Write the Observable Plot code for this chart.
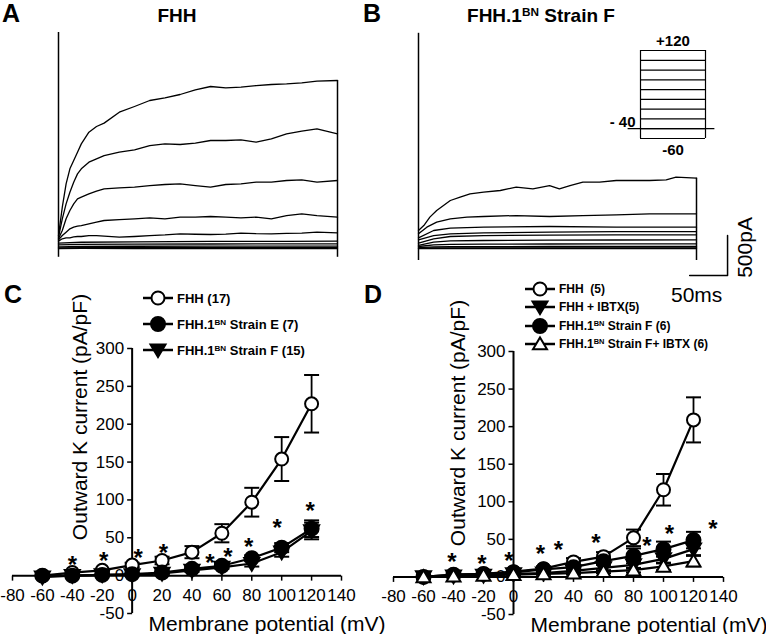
<!DOCTYPE html>
<html><head><meta charset="utf-8">
<script src="https://cdn.jsdelivr.net/npm/d3@7"></script>
<script src="https://cdn.jsdelivr.net/npm/@observablehq/plot@0.6"></script>
<style>
body{margin:0;background:#fff;}
#fig{position:relative;width:766px;height:634px;overflow:hidden;background:#fff;font-family:'Liberation Sans',Arial,Helvetica,sans-serif;color:#000;}
#fig svg{overflow:visible;}
.lbl{position:absolute;font-weight:bold;line-height:1;white-space:nowrap;}
sup{font-size:0.62em;line-height:0;vertical-align:0.55em;}
</style></head><body><div id="fig"></div><script>
// ---------- DATA ----------
// Panel A traces (FHH), time in ms, current in pA
const tA = [0,5,10,15,20,25,30,40,50,60,80,100,120,140,160,180,200,220,240,260,280,300,320,340,367];
const a120 = [160,517,808,996,1100,1204,1308,1454,1525,1567,1704,1775,1850,1883,1925,1983,2025,2008,2017,2037,2050,2058,2071,2092,2100];
const a100 = [141,371,558,704,829,933,996,1079,1121,1162,1204,1233,1287,1308,1300,1317,1350,1350,1358,1329,1371,1433,1467,1496,1433];
const a80  = [121,225,371,475,558,621,642,683,717,746,758,767,787,800,808,787,767,800,808,829,829,850,858,829,850];
const a60  = [108,162,204,246,267,279,287,308,329,350,362,371,383,371,392,392,400,392,383,392,371,412,433,412,392];
const a40  = [92,121,133,133,145,150,150,162,160,155,141,150,162,170,183,178,175,180,192,185,183,190,192,204,196];
const tAflat = [0,30,100,200,300,367];
const a20  = [66,78,84,88,90,92];
const a0   = [45,52,55,56,58,58];
const am20 = [20,26,28,29,29,29];
const am40 = [8,10,11,12,12,12];
const am60 = [0,1,-1,0,-1,0];
const transientsA = [{t:0, lo:-110, hi:2700}, {t:367, lo:-110, hi:2100}];

// Panel B traces (FHH.1BN Strain F)
const tB1 = [0,7,15,24,33,42,55,68,86,108,129,151,173,186,200,217,239,261,283,305,327,340,367];
const b120 = [225,287,392,475,537,600,642,683,704,725,767,746,787,746,787,829,829,850,850,850,858,892,879];
const tB2 = [0,11,24,42,64,86,129,173,217,261,305,349,367];
const b100 = [183,267,329,371,392,400,412,400,412,421,433,433,433];
const tBflat = [0,20,42,86,173,261,367];
const b80  = [133,225,254,267,275,267,267];
const b60  = [108,160,183,195,204,210,212];
const b40  = [66,120,150,162,168,170,171];
const b20  = [40,80,95,100,104,106,108];
const b0   = [25,45,52,55,56,57,58];
const bm20 = [12,20,23,24,25,25,25];
const bm40 = [4,6,7,8,8,8,8];
const bm60 = [0,0,0,0,0,0,0];
const transientsB = [{t:0, lo:-150, hi:2690}, {t:367, lo:-150, hi:879}];

// Scale bar & protocol inset
const scaleBarMs = 50, scaleBarPA = 500;
const scaleBarCorner = {t: 408, I: -337};
const stepLevels = [-60,-40,-20,0,20,40,60,80,100,120];
const holdingPotential = -40;
const pulseSpan = [0, 367];
const holdingSpan = [-70, 420];

// I-V panels
const voltages = [-60,-40,-20,0,20,40,60,80,100,120];
const xTicks = [-80,-60,-40,-20,0,20,40,60,80,100,120,140];
const yTicks = [-50,0,50,100,150,200,250,300];

const fhhC       = [0,4,7,14,20,31,56,97,154,227];
const fhhCErr    = [1,1,2,3,5,8,12,19,29,38];
const strainEC   = [0,0,1,2,4,9,13,23,37,62];
const strainECErr= [1,1,1,1,1,2,2,4,6,11];
const strainFC   = [-2,0,1,1,3,7,11,16,31,59];
const strainFCErr= [1,1,1,1,1,2,2,4,6,11];
const starsCx = [-40,-19,4,21,52,64,78,97,119];
const starsCy = [22,27,31,38,24,32,45,70,93];

const fhhD          = [0,3,4,7,11,20,27,52,116,209];
const fhhDErr       = [1,1,1,2,3,5,6,11,21,30];
const fhhIbtxD      = [0,1,2,4,5,8,12,16,24,37];
const fhhIbtxDErr   = [1,1,1,1,2,3,4,5,6,8];
const strainFD      = [0,3,4,6,10,13,21,28,37,49];
const strainFDErr   = [1,1,1,2,2,3,4,10,10,11];
const strainFIbtxD  = [0,1,2,3,4,5,7,9,14,21];
const strainFIbtxDErr=[1,1,1,1,1,2,2,3,5,7];
const starsDx = [-41,-21,-3,18,30,55,89,104,133];
const starsDy = [27,25,29,38,43,53,49,65,71];

// ---------- DRAWING ----------
const FONT = "'Liberation Sans', Arial, Helvetica, sans-serif";
const fig = document.getElementById("fig");
function place(el, left, top){ el.style.position="absolute"; el.style.left=left+"px"; el.style.top=top+"px"; fig.appendChild(el); return el; }
const baseStyle = {background:"transparent", overflow:"visible", fontFamily: FONT, color:"black"};

const rOf = s => Math.sqrt(s/Math.PI);
const tickDown = {draw(c,s){const r=rOf(s); c.moveTo(0,0); c.lineTo(0,r);}};
const tickLeft = {draw(c,s){const r=rOf(s); c.moveTo(0,0); c.lineTo(-r,0);}};
const hCap = {draw(c,s){const r=rOf(s); c.moveTo(-r,0); c.lineTo(r,0);}};
const triDown = {draw(c,s){const r=rOf(s); c.moveTo(-r,-r*0.75); c.lineTo(r,-r*0.75); c.lineTo(0,r*0.95); c.closePath();}};
const triUp = {draw(c,s){const r=rOf(s); c.moveTo(-r,r*0.75); c.lineTo(r,r*0.75); c.lineTo(0,-r*0.95); c.closePath();}};

function traceRows(list){ return list.flatMap(tr => tr.t.map((t,i)=>({t, I: tr.I[i], z: tr.v}))); }

function tracePanel(traces, transients, marginLeft, marginRight, extra){
  return Plot.plot({
    width: 383, height: 280, marginLeft, marginRight, marginTop: 24, marginBottom: 16,
    x: {domain: pulseSpan, axis: null}, y: {domain: [-200, 2800], axis: null},
    style: baseStyle,
    marks: [
      Plot.line(traceRows(traces), {x:"t", y:"I", z:"z", stroke:"black", strokeWidth:1.3}),
      Plot.ruleX(transients, {x:"t", y1:"lo", y2:"hi", stroke:"black", strokeWidth:1.5}),
      ...extra
    ]
  });
}

const tracesA = [
  {v:120,t:tA,I:a120},{v:100,t:tA,I:a100},{v:80,t:tA,I:a80},{v:60,t:tA,I:a60},{v:40,t:tA,I:a40},
  {v:20,t:tAflat,I:a20},{v:0,t:tAflat,I:a0},{v:-20,t:tAflat,I:am20},{v:-40,t:tAflat,I:am40},{v:-60,t:tAflat,I:am60}
];
const tracesB = [
  {v:120,t:tB1,I:b120},{v:100,t:tB2,I:b100},{v:80,t:tBflat,I:b80},{v:60,t:tBflat,I:b60},{v:40,t:tBflat,I:b40},
  {v:20,t:tBflat,I:b20},{v:0,t:tBflat,I:b0},{v:-20,t:tBflat,I:bm20},{v:-40,t:tBflat,I:bm40},{v:-60,t:tBflat,I:bm60}
];

place(tracePanel(tracesA, transientsA, 58, 46, []), 0, 0);

const c = scaleBarCorner;
const barPts = [[c.t - scaleBarMs, c.I],[c.t, c.I],[c.t, c.I + scaleBarPA]];
place(tracePanel(tracesB, transientsB, 35, 70, [
  Plot.line(barPts, {x: d=>d[0], y: d=>d[1], stroke:"black", strokeWidth:1.5}),
  Plot.text([scaleBarPA + "pA"], {x: c.t, y: c.I + scaleBarPA/2, dx: 18, dy: -8, rotate: -90, textAnchor: "middle", fontSize: 21}),
  Plot.text([scaleBarMs + "ms"], {x: c.t - scaleBarMs/2, y: c.I, dx: -12, dy: 20, fontSize: 21})
]), 383, 0);

// protocol inset
const pMid = (pulseSpan[0] + pulseSpan[1]) / 2;
place(Plot.plot({
  width: 130, height: 130, marginLeft: 40, marginRight: 25, marginTop: 20, marginBottom: 22,
  x: {domain: pulseSpan, axis: null}, y: {domain: [-60, 120], axis: null},
  style: baseStyle,
  marks: [
    Plot.ruleY(stepLevels, {x1: pulseSpan[0], x2: pulseSpan[1], stroke:"black", strokeWidth: 1.2}),
    Plot.ruleX(pulseSpan, {y1: stepLevels[0], y2: stepLevels[stepLevels.length-1], stroke:"black", strokeWidth: 1.2}),
    Plot.ruleY([holdingPotential], {x1: holdingSpan[0], x2: holdingSpan[1], stroke:"black", strokeWidth: 1.2}),
    Plot.text(["+" + stepLevels[stepLevels.length-1]], {x: pMid, y: stepLevels[stepLevels.length-1], dy: -9, fontSize: 15, fontWeight: "bold"}),
    Plot.text(["- " + Math.abs(holdingPotential)], {x: pulseSpan[0], y: holdingPotential, dx: -5, dy: -7, textAnchor: "end", fontSize: 15, fontWeight: "bold"}),
    Plot.text([String(stepLevels[0])], {x: pMid, y: stepLevels[0], dy: 12, fontSize: 15, fontWeight: "bold"})
  ]
}), 600, 30);

// I-V panels
function ivPanel(o){
  const marks = [
    Plot.ruleY([0], {x1: xTicks[0], x2: xTicks[xTicks.length-1], stroke:"black", strokeWidth: 2}),
    Plot.ruleX([0], {y1: yTicks[0], y2: yTicks[yTicks.length-1], stroke:"black", strokeWidth: 2}),
    Plot.dot(xTicks, {x: d=>d, y: 0, symbol: tickDown, r: 5, stroke:"black", fill:"none", strokeWidth: 1.5}),
    Plot.dot(yTicks, {x: 0, y: d=>d, symbol: tickLeft, r: 5, stroke:"black", fill:"none", strokeWidth: 1.5}),
    Plot.text(xTicks, {x: d=>d, y: 0, text: d=>String(d), dy: 20, fontSize: 17}),
    Plot.text(yTicks, {x: 0, y: d=>d, text: d=>String(d), textAnchor: "end", dx: -8, fontSize: 17}),
    Plot.text(["Outward K current (pA/pF)"], {frameAnchor: "left", textAnchor: "middle", rotate: -90, dx: o.yTitleDx, dy: o.yTitleDy, fontSize: 21}),
    Plot.text(["Membrane potential (mV)"], {frameAnchor: "bottom-left", textAnchor: "start", lineAnchor: "bottom", dx: o.xTitleDx, dy: 17, fontSize: 21})
  ];
  for (const s of o.series){
    const rows = voltages.map((v,i)=>({v, i: s.values[i], lo: s.values[i]-s.err[i], hi: s.values[i]+s.err[i]}));
    marks.push(
      Plot.ruleX(rows, {x:"v", y1:"lo", y2:"hi", stroke:"black", strokeWidth: 1.8}),
      Plot.dot(rows, {x:"v", y:"hi", symbol: hCap, r: 7.5, stroke:"black", fill:"none", strokeWidth: 2}),
      Plot.dot(rows, {x:"v", y:"lo", symbol: hCap, r: 7.5, stroke:"black", fill:"none", strokeWidth: 2}),
      Plot.line(rows, {x:"v", y:"i", stroke:"black", strokeWidth: 2.2}),
      Plot.dot(rows, {x:"v", y:"i", symbol: s.symbol, r: s.r, fill: s.fill, stroke:"black", strokeWidth: 2})
    );
  }
  const stars = o.starsX.map((x,i)=>({x, y: o.starsY[i]}));
  marks.push(Plot.text(stars, {x:"x", y:"y", text: ()=>"*", fontSize: 24, fontWeight: "bold", dy: 6}));
  return Plot.plot({
    width: 383, height: 354,
    marginLeft: o.marginLeft, marginRight: o.marginRight, marginTop: o.marginTop, marginBottom: o.marginBottom,
    x: {domain: [xTicks[0], xTicks[xTicks.length-1]], axis: null},
    y: {domain: [yTicks[0], yTicks[yTicks.length-1]], axis: null},
    style: baseStyle,
    marks
  });
}

place(ivPanel({
  marginLeft: 12, marginRight: 42, marginTop: 68, marginBottom: 21,
  yTitleDx: 68, yTitleDy: -64, xTitleDx: 136,
  series: [
    {values: fhhC, err: fhhCErr, symbol: "circle", r: 6.5, fill: "white"},
    {values: strainEC, err: strainECErr, symbol: "circle", r: 7, fill: "black"},
    {values: strainFC, err: strainFCErr, symbol: triDown, r: 7.5, fill: "black"}
  ],
  starsX: starsCx, starsY: starsCy
}), 0, 280);

place(ivPanel({
  marginLeft: 10, marginRight: 43, marginTop: 71, marginBottom: 20,
  yTitleDx: 65, yTitleDy: -60, xTitleDx: 137,
  series: [
    {values: fhhD, err: fhhDErr, symbol: "circle", r: 6.5, fill: "white"},
    {values: fhhIbtxD, err: fhhIbtxDErr, symbol: triDown, r: 7.5, fill: "black"},
    {values: strainFD, err: strainFDErr, symbol: "circle", r: 7, fill: "black"},
    {values: strainFIbtxD, err: strainFIbtxDErr, symbol: triUp, r: 7, fill: "white"}
  ],
  starsX: starsDx, starsY: starsDy
}), 383, 280);

// ---------- TEXT (titles, panel letters, legends) ----------
function label(html, left, top, size, extra){
  const d = document.createElement("div");
  d.className = "lbl"; d.innerHTML = html; d.style.fontSize = size + "px";
  if (extra) Object.assign(d.style, extra);
  return place(d, left, top);
}
label("A", 2, 1, 25);
label("B", 363, 1, 25);
label("C", 4, 282, 25);
label("D", 364, 282, 25);
label("FHH", 127, 6, 19, {width:"100px", textAlign:"center"});
label("FHH.1<sup>BN</sup> Strain F", 441, 6, 19, {width:"200px", textAlign:"center"});

function markerSvg(m){
  if (m === "openCircle") return `<circle cx="16" cy="12" r="6.5" fill="white" stroke="black" stroke-width="2"/>`;
  if (m === "filledCircle") return `<circle cx="16" cy="12" r="7" fill="black" stroke="black" stroke-width="2"/>`;
  if (m === "triDown") return `<path d="M8.5,6.4L23.5,6.4L16,19.1Z" fill="black" stroke="black" stroke-width="2"/>`;
  return `<path d="M9,17.2L23,17.2L16,5.4Z" fill="white" stroke="black" stroke-width="2"/>`;
}
const legendCLabels = ["FHH (17)", "FHH.1<sup>BN</sup> Strain E (7)", "FHH.1<sup>BN</sup> Strain F (15)"];
const legendCMarkers = ["openCircle", "filledCircle", "triDown"];
const legendCY = [298, 324, 350];
const legendDLabels = ["FHH&nbsp; (5)", "FHH + IBTX(5)", "FHH.1<sup>BN</sup> Strain F (6)", "FHH.1<sup>BN</sup> Strain F+ IBTX (6)"];
const legendDMarkers = ["openCircle", "triDown", "filledCircle", "openTri"];
const legendDY = [289, 307, 325.5, 344];

function legend(labels, markers, ys, left, size){
  labels.forEach((lab, k) => {
    const d = document.createElement("div");
    d.style.cssText = `position:absolute;left:${left}px;top:${ys[k]-12}px;height:24px;display:flex;align-items:center;font-weight:bold;font-size:${size}px;white-space:nowrap;line-height:1;`;
    d.innerHTML = `<svg width="32" height="24" style="overflow:visible;flex:none"><line x1="1" x2="31" y1="12" y2="12" stroke="black" stroke-width="2.5"/>${markerSvg(markers[k])}</svg><span style="margin-left:3px">${lab}</span>`;
    fig.appendChild(d);
  });
}
legend(legendCLabels, legendCMarkers, legendCY, 142, 13);
legend(legendDLabels, legendDMarkers, legendDY, 524, 12);
</script></body></html>
